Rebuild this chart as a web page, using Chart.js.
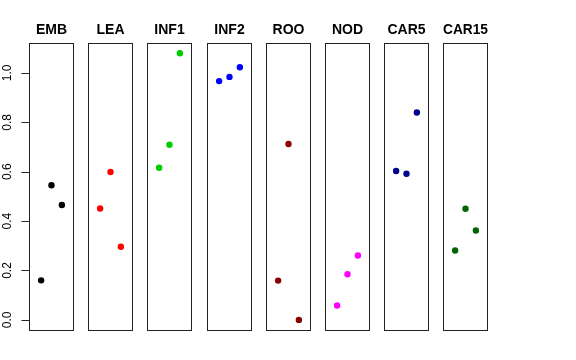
<!DOCTYPE html>
<html>
<head>
<meta charset="utf-8">
<script src="https://cdn.jsdelivr.net/npm/chart.js@4"></script>
<style>
  body { margin: 0; background: #fff; }
  #wrap { position: relative; width: 576px; height: 360px; overflow: hidden; background: #fff; }
  #wrap canvas { position: absolute; top: 0; }
</style>
</head>
<body>
<div id="wrap"></div>
<script>
// --- Data ---
const categories = ['EMB', 'LEA', 'INF1', 'INF2', 'ROO', 'NOD', 'CAR5', 'CAR15'];
const positions = [1, 2, 3];
const embValues = [0.16, 0.545, 0.465];
const leaValues = [0.451, 0.599, 0.296];
const inf1Values = [0.616, 0.709, 1.08];
const inf2Values = [0.967, 0.984, 1.023];
const rooValues = [0.159, 0.712, 0.0];
const nodValues = [0.058, 0.185, 0.261];
const car5Values = [0.603, 0.592, 0.84];
const car15Values = [0.281, 0.45, 0.362];
const seriesValues = [embValues, leaValues, inf1Values, inf2Values, rooValues, nodValues, car5Values, car15Values];
const colors = ['#000000', '#ff0000', '#00cd00', '#0000ff', '#8b0000', '#ff00ff', '#00008b', '#006400'];
const yTicks = [0, 0.2, 0.4, 0.6, 0.8, 1.0];
const yTickLabels = ['0.0', '0.2', '0.4', '0.6', '0.8', '1.0'];

// --- Layout ---
const wrap = document.getElementById('wrap');
const firstLeft = 29;
const step = 59.2;
const panelW = 45;
const pad = 29; // same on both sides so the title stays centred on the panel

// box round each panel
const framePlugin = {
    id: 'frame',
    beforeDatasetsDraw(chart) {
        const a = chart.chartArea;
        const ctx = chart.ctx;
        ctx.save();
        ctx.strokeStyle = '#222';
        ctx.lineWidth = 1;
        ctx.strokeRect(Math.round(a.left) + 0.5, Math.round(a.top) + 0.5,
            Math.round(a.right - a.left) - 1, Math.round(a.bottom - a.top) - 1);
        ctx.restore();
    }
};

// R-style left axis, only on the first panel
const axisPlugin = {
    id: 'leftAxis',
    afterDraw(chart) {
        const y = chart.scales.y;
        const x0 = Math.round(chart.chartArea.left) + 0.5;
        const ctx = chart.ctx;
        ctx.save();
        ctx.strokeStyle = '#222';
        ctx.lineWidth = 1;
        ctx.beginPath();
        ctx.moveTo(x0, Math.round(y.getPixelForValue(yTicks[0])) + 0.5);
        ctx.lineTo(x0, Math.round(y.getPixelForValue(yTicks[yTicks.length - 1])) + 0.5);
        yTicks.forEach(v => {
            const py = Math.round(y.getPixelForValue(v)) + 0.5;
            ctx.moveTo(x0, py);
            ctx.lineTo(x0 - 8, py);
        });
        ctx.stroke();
        ctx.fillStyle = '#000';
        ctx.font = '12px "Liberation Sans", Arial, sans-serif';
        ctx.textAlign = 'center';
        ctx.textBaseline = 'middle';
        yTicks.forEach((v, i) => {
            ctx.save();
            ctx.translate(8, y.getPixelForValue(v));
            ctx.rotate(-Math.PI / 2);
            ctx.fillText(yTickLabels[i], 0, 0);
            ctx.restore();
        });
        ctx.restore();
    }
};

categories.forEach((cat, i) => {
    const panelLeft = Math.round(firstLeft + i * step);
    const canvas = document.createElement('canvas');
    canvas.width = panelW + 2 * pad;
    canvas.height = 360;
    canvas.style.left = (panelLeft - pad) + 'px';
    wrap.appendChild(canvas);

    new Chart(canvas, {
        type: 'scatter',
        data: {
            datasets: [{
                data: positions.map((p, k) => ({ x: p, y: seriesValues[i][k] })),
                backgroundColor: colors[i],
                borderWidth: 0,
                pointRadius: 3.2
            }]
        },
        options: {
            responsive: false,
            animation: false,
            devicePixelRatio: 1,
            layout: { autoPadding: false, padding: { left: pad, right: pad, top: 0, bottom: 29 } },
            plugins: {
                legend: { display: false },
                tooltip: { enabled: false },
                title: {
                    display: true,
                    text: cat,
                    color: '#000',
                    font: { family: '"Liberation Sans", Arial, sans-serif', size: 14, weight: 'bold', lineHeight: 1.2 },
                    padding: { top: 21.5, bottom: 5 }
                }
            },
            scales: {
                x: { type: 'linear', display: false, min: -0.17, max: 4.17 },
                y: { type: 'linear', display: false, min: -0.045, max: 1.12 }
            }
        },
        plugins: i === 0 ? [framePlugin, axisPlugin] : [framePlugin]
    });
});
</script>
</body>
</html>
